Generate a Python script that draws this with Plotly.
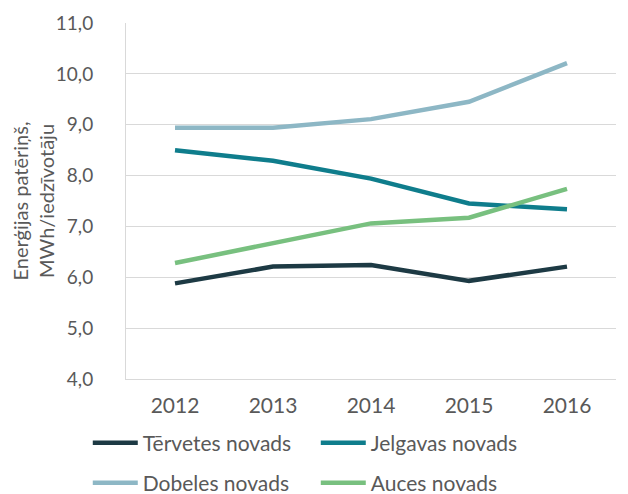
import plotly.graph_objects as go

years = ["2012", "2013", "2014", "2015", "2016"]
tervetes = [5.88, 6.21, 6.24, 5.93, 6.21]
jelgavas = [8.50, 8.29, 7.94, 7.45, 7.34]
dobeles = [8.94, 8.94, 9.11, 9.45, 10.21]
auces = [6.28, 6.67, 7.06, 7.17, 7.74]
yticks = [4, 5, 6, 7, 8, 9, 10, 11]
ytick_labels = ["4,0", "5,0", "6,0", "7,0", "8,0", "9,0", "10,0", "11,0"]

series = [
    ("Tērvetes novads", tervetes, "#1d3a44", "legend"),
    ("Jelgavas novads", jelgavas, "#0f7d8c", "legend"),
    ("Dobeles novads", dobeles, "#8db7c5", "legend2"),
    ("Auces novads", auces, "#78c07f", "legend2"),
]

font_family = "Lato, 'DejaVu Sans', sans-serif"
fig = go.Figure()
for name, vals, col, lg in series:
    fig.add_trace(go.Scatter(x=years, y=vals, name=name, mode="lines", legend=lg,
                             line=dict(color=col, width=4.5)))

off = 8  # page body margin
T, B = 15, 123
plot_h = 494 - T - B
def py(screen_y):
    return ((494 - B) - (screen_y - off)) / plot_h

leg_common = dict(orientation="h", xref="paper", x=-0.078, yref="paper",
                  yanchor="middle", xanchor="left", entrywidth=168,
                  entrywidthmode="pixels", font=dict(size=21, color="#595959"),
                  itemwidth=45, bgcolor="rgba(0,0,0,0)")

fig.update_layout(
    width=628, height=494,
    margin=dict(l=118, r=20, t=T, b=B, autoexpand=False),
    paper_bgcolor="white", plot_bgcolor="white",
    font=dict(family=font_family, color="#595959", size=19),
    showlegend=True,
    legend=dict(leg_common, y=py(443)),
    legend2=dict(leg_common, y=py(483)),
)
fig.update_xaxes(type="category", range=[-0.5, 4.5], automargin=False,
                 showgrid=False, showline=True, linecolor="#d9d9d9",
                 linewidth=1, ticks="", ticklabelstandoff=8,
                 tickfont=dict(size=21, color="#595959"))
fig.update_yaxes(range=[4, 11], tickvals=yticks, ticktext=ytick_labels, automargin=False,
                 showgrid=True, gridcolor="#d9d9d9", gridwidth=1,
                 showline=True, linecolor="#d9d9d9", zeroline=False,
                 ticklabelstandoff=28, tickfont=dict(size=19, color="#595959"),
                 title=dict(text="Enerģijas patēriņš,<br>MWh/iedzīvotāju",
                            font=dict(size=20, color="#595959"), standoff=8))
fig.write_html("out.html")
